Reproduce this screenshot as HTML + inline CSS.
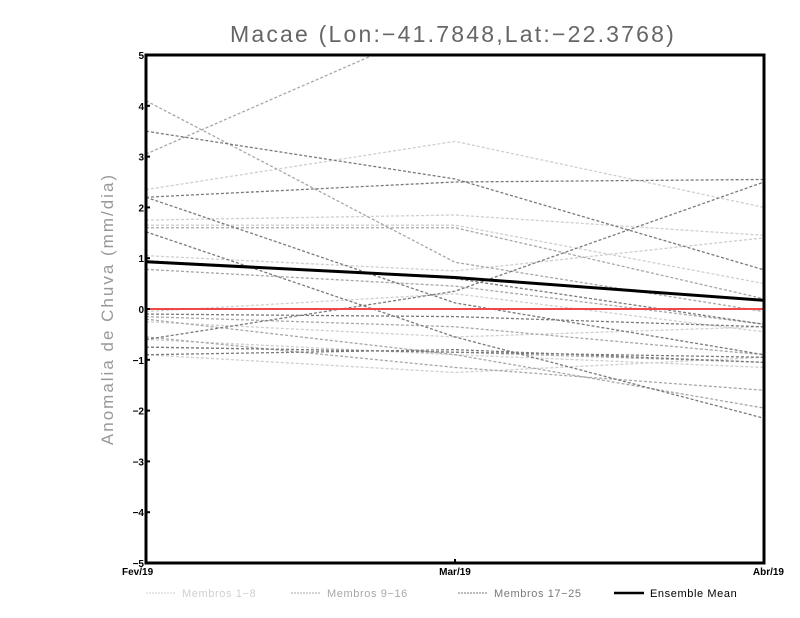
<!DOCTYPE html>
<html><head><meta charset="utf-8"><style>
body{margin:0;background:#fff;}
svg{display:block;font-family:"Liberation Sans",sans-serif;}
</style></head><body>
<svg id="c" width="800" height="618"></svg>
<script>
const categories=["Fev/19","Mar/19","Abr/19"];
const yTicks=[-5,-4,-3,-2,-1,0,1,2,3,4,5];
const light=[[2.35,3.3,2.0],[1.75,1.85,1.45],[1.65,1.65,0.5],[1.05,0.75,1.4],[-0.05,0.3,-0.45],[-0.25,-0.55,-0.35],[-0.6,-0.9,-1.15],[-0.9,-1.25,-0.95]];
const medium=[[3.05,5.7,6.5],[4.1,0.92,-0.05],[1.6,1.6,0.2],[0.78,0.45,-0.3],[-0.15,-0.35,-0.9],[-0.75,-0.85,-1.05],[-0.55,-1.15,-1.6],[-0.2,-0.9,-1.95]];
const dark=[[3.5,2.56,0.77],[2.2,2.5,2.55],[2.2,0.12,-0.9],[1.52,-0.55,-2.15],[-0.6,0.35,2.5],[0.95,0.6,-0.3],[-0.1,-0.15,-0.35],[-0.75,-0.85,-0.95],[-0.9,-0.8,-1.05]];
const meanSeries=[0.93,0.62,0.17];
const L=146,R=764,T=55,B=563;
const sx=i=>L+i*(R-L)/(categories.length-1);
const sy=v=>B-(v+5)*(B-T)/10;
const svg=document.getElementById('c');const NS='http://www.w3.org/2000/svg';
function mk(t,a,p){const e=document.createElementNS(NS,t);for(const k in a)e.setAttribute(k,a[k]);(p||svg).appendChild(e);return e;}
const defs=mk('clipPath',{id:'cp'});mk('rect',{x:L,y:T,width:R-L,height:B-T},defs);
const g=mk('g',{'clip-path':'url(#cp)'});
function drawGroup(arr,col,name){arr.forEach((s,j)=>{const pts=s.map((v,i)=>sx(i)+','+sy(v)).join(' ');
const el=mk('polyline',{points:pts,fill:'none',stroke:col,'stroke-width':1.3,'stroke-dasharray':'3,2'},g);

});}
drawGroup(light,'#cfcfcf','member-light');
drawGroup(medium,'#a8a8a8','member-medium');
drawGroup(dark,'#7a7a7a','member-dark');
const zl=mk('line',{x1:L,x2:R,y1:sy(0),y2:sy(0),stroke:'#f04848','stroke-width':2},g);


const ml=mk('polyline',{points:meanSeries.map((v,i)=>sx(i)+','+sy(v)).join(' '),fill:'none',stroke:'#000','stroke-width':3},g);


const fr=mk('rect',{x:L,y:T,width:R-L,height:B-T,fill:'none',stroke:'#000','stroke-width':3});


yTicks.forEach(v=>{mk('line',{x1:L,x2:L+4,y1:sy(v),y2:sy(v),stroke:'#000','stroke-width':2});
const t=mk('text',{x:L-2,y:sy(v)+4,'text-anchor':'end','font-size':10,'font-weight':'bold'});t.textContent=(v<0?'\u2212'+(-v):v);

});
categories.forEach((c,i)=>{mk('line',{x1:sx(i),x2:sx(i),y1:B,y2:B-4,stroke:'#000','stroke-width':2});
const t=mk('text',{x:sx(i),y:B+12,'text-anchor':i==0?'start':(i==2?'end':'middle'),'font-size':10,'font-weight':'bold'});t.textContent=c;
if(i==2)t.setAttribute('x',R+20);if(i==0)t.setAttribute('x',L-24);

});
const ti=mk('text',{x:453,y:42,'text-anchor':'middle','font-size':23,fill:'#666','letter-spacing':'2.2'});ti.textContent='Macae (Lon:\u221241.7848,Lat:\u221222.3768)';


const yt=mk('text',{x:0,y:0,'text-anchor':'middle','font-size':17,fill:'#999','letter-spacing':'2',transform:'translate(113,309) rotate(-90)'});yt.textContent='Anomalia de Chuva (mm/dia)';


const leg=[['Membros 1\u22128','#cfcfcf',146,0],['Membros 9\u221216','#a8a8a8',291,0],['Membros 17\u221225','#7a7a7a',458,0],['Ensemble Mean','#000',614,1]];
leg.forEach(l=>{const gg=mk('g',{});


mk('line',{x1:l[2],x2:l[2]+30,y1:593,y2:593,stroke:l[1],'stroke-width':l[3]?2.5:1,'stroke-dasharray':l[3]?'none':'2,1'},gg);
const t=mk('text',{x:l[2]+36,y:597,'font-size':11,fill:l[3]?'#000':l[1],'letter-spacing':'0.6'},gg);t.textContent=l[0];});
</script>
</body></html>
